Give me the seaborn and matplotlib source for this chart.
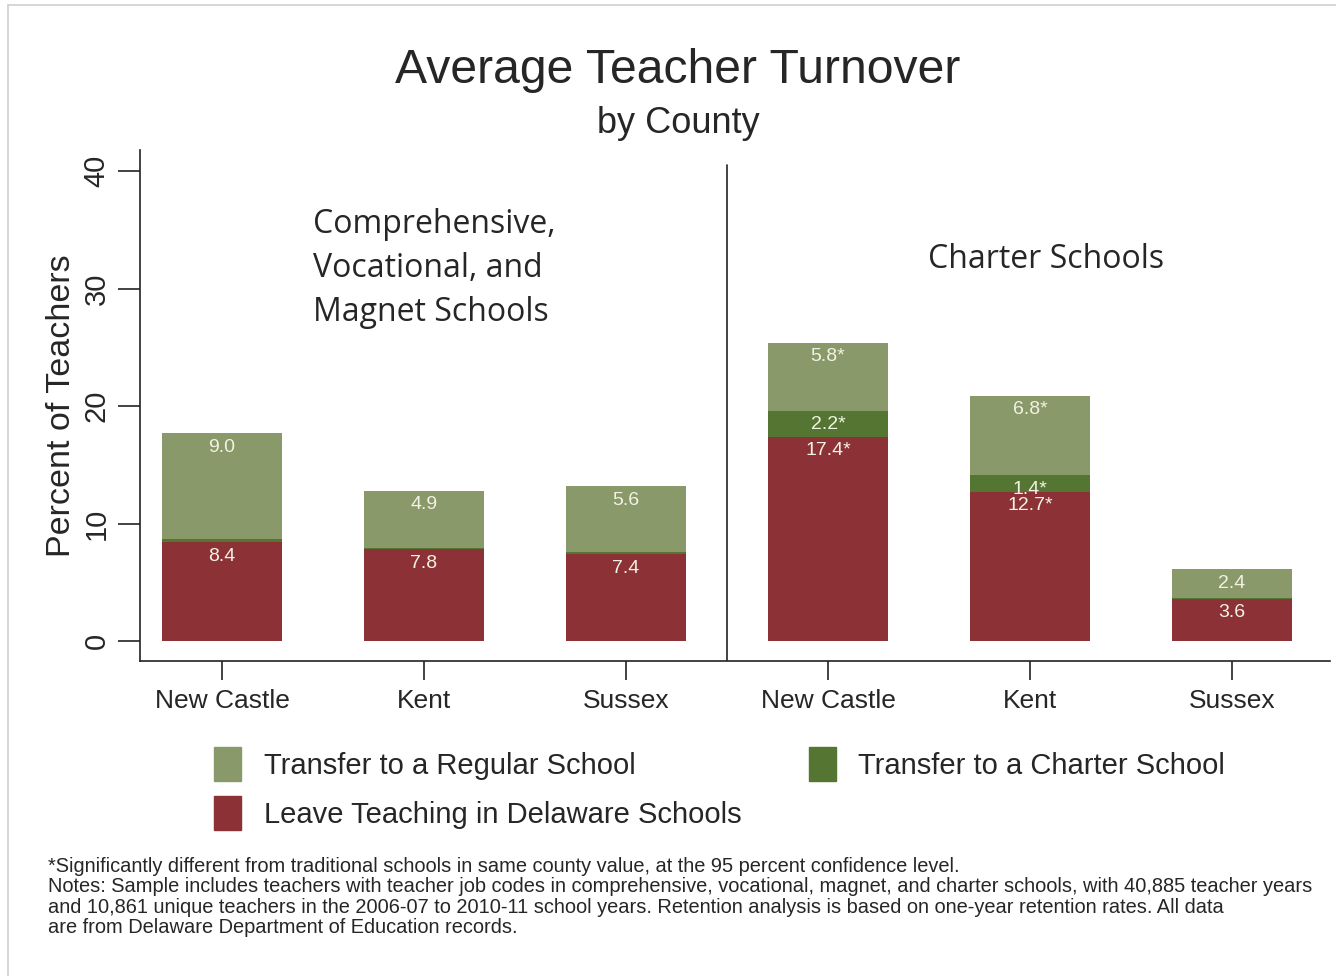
import matplotlib
matplotlib.use("Agg")
import matplotlib.pyplot as plt
import matplotlib.patches as mpatches
import pandas as pd
import seaborn as sns

# data
slots = ["comp_nc", "comp_kent", "comp_sussex", "chart_nc", "chart_kent", "chart_sussex"]
county_labels = ["New Castle", "Kent", "Sussex", "New Castle", "Kent", "Sussex"]
leave = [8.4, 7.8, 7.4, 17.4, 12.7, 3.6]
to_charter = [0.3, 0.1, 0.2, 2.2, 1.4, 0.1]
to_regular = [9.0, 4.9, 5.6, 5.8, 6.8, 2.4]
leave_txt = ["8.4", "7.8", "7.4", "17.4*", "12.7*", "3.6"]
charter_txt = ["", "", "", "2.2*", "1.4*", ""]
regular_txt = ["9.0", "4.9", "5.6", "5.8*", "6.8*", "2.4"]

c_regular = "#899969"
c_charter = "#557632"
c_leave = "#8c3237"
label_color = "#f2f2e4"

df = pd.DataFrame({"slot": slots, "leave": leave, "charter": to_charter, "regular": to_regular})
df["lvl1"] = df["leave"]
df["lvl2"] = df["leave"] + df["charter"]
df["lvl3"] = df["lvl2"] + df["regular"]

sns.set_theme(style="white")
plt.rcParams["font.family"] = ["Liberation Sans", "DejaVu Sans"]

fig = plt.figure(figsize=(13.36, 9.76), dpi=100)
ax = fig.add_axes([0.1048, 0.3227, 0.8907, 0.5236])

# stacked bars: draw cumulative totals tallest first
sns.barplot(data=df, x="slot", y="lvl3", order=slots, color=c_regular, width=0.594,
            saturation=1, ax=ax, linewidth=0)
sns.barplot(data=df, x="slot", y="lvl2", order=slots, color=c_charter, width=0.594,
            saturation=1, ax=ax, linewidth=0)
sns.barplot(data=df, x="slot", y="lvl1", order=slots, color=c_leave, width=0.594,
            saturation=1, ax=ax, linewidth=0)

# segment labels just under each segment top
for i in range(len(slots)):
    for top, txt in [(df["lvl3"][i], regular_txt[i]), (df["lvl2"][i], charter_txt[i]),
                     (df["lvl1"][i], leave_txt[i])]:
        if txt:
            ax.annotate(txt, (i, top), xytext=(0, -4), textcoords="offset points",
                        ha="center", va="top", fontsize=14, color=label_color)

ax.set_xlim(-0.406, 5.485)
ax.set_ylim(-1.7, 41.8)
ax.set_yticks([0, 10, 20, 30, 40])
ax.set_yticklabels(["0", "10", "20", "30", "40"], rotation=90, va="center", fontsize=21)
ax.set_xticks(range(len(slots)))
ax.set_xticklabels(county_labels, fontsize=19)
ax.tick_params(axis="both", which="major", length=16, width=1.2, color="#222222",
               left=True, bottom=True)
ax.tick_params(axis="x", pad=6, length=14)
ax.tick_params(axis="y", pad=5)
ax.set_xlabel("")
ax.set_ylabel("Percent of Teachers", fontsize=24.5, labelpad=4)

for side in ["top", "right"]:
    ax.spines[side].set_visible(False)
for side in ["left", "bottom"]:
    ax.spines[side].set_color("#222222")
    ax.spines[side].set_linewidth(1.2)

# divider between school types
ax.plot([2.5, 2.5], [-1.7, 40.5], color="#222222", lw=1.2)

ax.text(0.45, 36.9, "Comprehensive,\nVocational, and\nMagnet Schools", fontsize=23,
        family=["Open Sans", "DejaVu Sans"], ha="left", va="top", linespacing=1.45)
ax.text(4.08, 32.5, "Charter Schools", fontsize=23, family=["Open Sans", "DejaVu Sans"],
        ha="center", va="center")

fig.text(0.5075, 0.928, "Average Teacher Turnover", ha="center", va="center", fontsize=34.7)
fig.text(0.5075, 0.873, "by County", ha="center", va="center", fontsize=26)

handles = [mpatches.Patch(color=c_regular, label="Transfer to a Regular School"),
           mpatches.Patch(color=c_leave, label="Leave Teaching in Delaware Schools"),
           mpatches.Patch(color=c_charter, label="Transfer to a Charter School")]
fig.legend(handles=handles, ncol=2, loc="upper left", bbox_to_anchor=(0.149, 0.250),
           frameon=False, fontsize=21, handlelength=0.95, handleheight=1.45,
           handletextpad=0.76, columnspacing=2.31, labelspacing=0.5, borderpad=0)

notes = ("*Significantly different from traditional schools in same county value, at the 95 percent confidence level.\n"
         "Notes: Sample includes teachers with teacher job codes in comprehensive, vocational, magnet, and charter schools, with 40,885 teacher years\n"
         "and 10,861 unique teachers in the 2006-07 to 2010-11 school years. Retention analysis is based on one-year retention rates. All data\n"
         "are from Delaware Department of Education records.")
fig.text(0.036, 0.122, notes, ha="left", va="top", fontsize=14.4, linespacing=1.1)

# light outer frame
fig.add_artist(plt.Line2D([8 / 1336, 8 / 1336], [0, 1 - 5 / 976], color="#d0d0d0", lw=1.2))
fig.add_artist(plt.Line2D([8 / 1336, 1], [1 - 5 / 976, 1 - 5 / 976], color="#d0d0d0", lw=1.2))

fig.savefig("out.png", dpi=100)
